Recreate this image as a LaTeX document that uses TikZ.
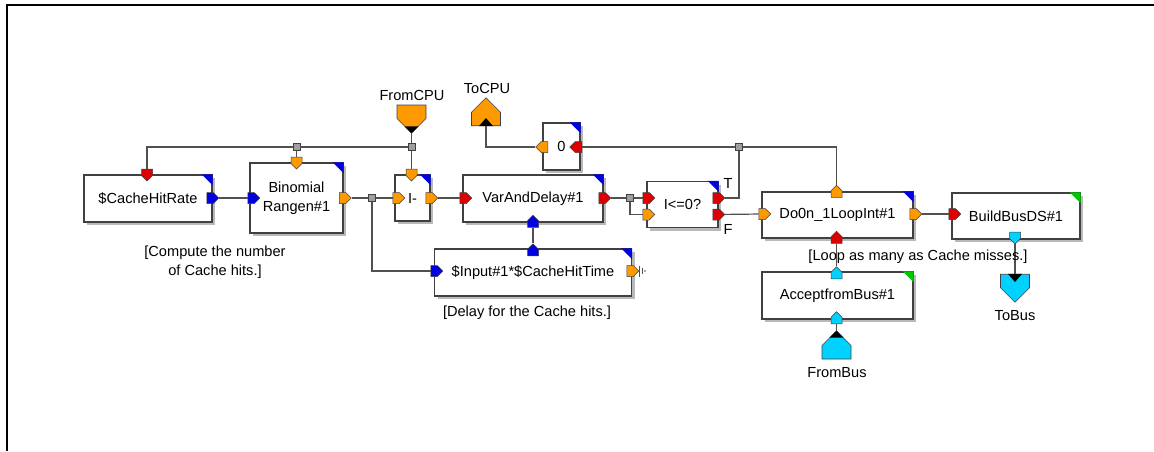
\documentclass[tikz,border=0pt]{standalone}
\usepackage{fontspec}
\setmainfont{Liberation Sans}
\usetikzlibrary{shapes.symbols,shadows,calc}
\definecolor{pred}{RGB}{222,0,0}
\definecolor{pblue}{RGB}{0,0,225}
\definecolor{porange}{RGB}{255,153,0}
\definecolor{pcyan}{RGB}{0,210,255}
\definecolor{pgreen}{RGB}{0,200,0}
\definecolor{boxc}{RGB}{64,64,64}
\definecolor{linec}{RGB}{80,80,80}
\definecolor{shadc}{RGB}{185,185,185}
\newcommand{\cornertri}[2]{\fill[#2] ($(#1.north east)+(-11,0)$) -- (#1.north east) -- ($(#1.north east)+(0,11)$) -- cycle;}
\begin{document}
\begin{tikzpicture}[x=1pt,y=-1pt,
  font=\fontsize{14.6}{17.5}\selectfont,
  blk/.style={draw=boxc, line width=1.3pt, fill=white, inner sep=0pt,
    drop shadow={shadow xshift=3pt, shadow yshift=-3pt, fill=shadc, opacity=1}},
  pth/.style={shape=signal, signal pointer angle=90, draw=boxc, line width=0.5pt,
    inner sep=0pt, minimum width=12pt, minimum height=11pt},
  ptv/.style={shape=signal, signal pointer angle=90, draw=boxc, line width=0.5pt,
    inner sep=0pt, minimum width=11pt, minimum height=6.5pt},
  term/.style={shape=signal, signal pointer angle=90, draw=boxc, line width=0.6pt,
    inner sep=0pt, minimum width=29pt, minimum height=13.5pt},
  jn/.style={draw=boxc, fill=gray!75, line width=0.6pt, inner sep=0pt, minimum size=7pt},
  wire/.style={draw=linec, line width=1.2pt},
  txt/.style={inner sep=0pt}]
\useasboundingbox (0,0) rectangle (1154,451);
\draw[line width=2pt] (1154,4.5) -- (7,4.5) -- (7,451);

% boxes
\node[blk, minimum width=128pt, minimum height=47pt] (chr) at (148,198.5) {\$CacheHitRate};
\node[blk, minimum width=93pt, minimum height=70pt, align=center] (bin) at (296.5,198) {Binomial\\[1pt]Rangen\#1};
\node[blk, minimum width=35pt, minimum height=46pt] (imin) at (412.5,198) {I-};
\node[blk, minimum width=37pt, minimum height=47pt] (zero) at (561.5,146.5) {0};
\node[blk, minimum width=140pt, minimum height=47pt] (vad) at (533,198.5) {VarAndDelay\#1};
\node[blk, minimum width=71pt, minimum height=46pt] (cond) at (682.5,204.5) {I<=0?};
\node[blk, minimum width=151pt, minimum height=46pt] (loop) at (837.5,215) {Do0n\_1LoopInt\#1};
\node[blk, minimum width=128pt, minimum height=46pt] (bbd) at (1016,216) {BuildBusDS\#1};
\node[blk, minimum width=151pt, minimum height=47pt] (afb) at (837.5,295.5) {AcceptfromBus\#1};
\node[blk, minimum width=197pt, minimum height=47pt] (inp) at (533,272.5) {\$Input\#1*\$CacheHitTime};

\cornertri{chr}{pblue}
\cornertri{bin}{pblue}
\cornertri{imin}{pblue}
\cornertri{zero}{pblue}
\cornertri{vad}{pblue}
\cornertri{cond}{pblue}
\cornertri{loop}{pblue}
\cornertri{bbd}{pgreen}
\cornertri{afb}{pgreen}
\cornertri{inp}{pblue}

% ports
\node[ptv, signal to=south, fill=pred] (chr-t) at (147,172.25) {};
\node[pth, signal to=east, fill=pblue] (chr-o) at (210,198) {};
\node[pth, signal to=east, fill=pblue] (bin-i) at (251,198) {};
\node[ptv, signal to=south, fill=porange] (bin-t) at (296.5,160.25) {};
\node[pth, signal to=east, fill=porange] (bin-o) at (342.5,198) {};
\node[ptv, signal to=south, fill=porange] (imin-t) at (411.5,172.25) {};
\node[pth, signal to=east, fill=porange] (imin-i) at (396,198) {};
\node[pth, signal to=east, fill=porange] (imin-o) at (429,198) {};
\node[pth, signal to=west, fill=porange] (zero-o) at (544.5,147) {};
\node[pth, signal to=west, fill=pred] (zero-i) at (578.5,147) {};
\node[pth, signal to=east, fill=pred] (vad-i) at (463,198) {};
\node[pth, signal to=east, fill=pred] (vad-o) at (602,198) {};
\node[ptv, signal to=north, fill=pblue] (vad-b) at (533,224) {};
\node[pth, signal to=east, fill=pred] (cond-i1) at (646,198) {};
\node[pth, signal to=east, fill=porange] (cond-i2) at (646,214.5) {};
\node[pth, signal to=east, fill=pred] (cond-t) at (716,198) {};
\node[pth, signal to=east, fill=pred] (cond-f) at (716,214.5) {};
\node[ptv, signal to=north, fill=porange] (loop-t) at (836.5,194) {};
\node[pth, signal to=east, fill=porange] (loop-i) at (762,214) {};
\node[pth, signal to=east, fill=porange] (loop-o) at (913,214) {};
\node[ptv, signal to=north, fill=pred] (loop-b) at (836.5,240) {};
\node[pth, signal to=east, fill=pred] (bbd-i) at (952,214) {};
\node[ptv, signal to=south, fill=pcyan] (bbd-b) at (1015,235.25) {};
\node[ptv, signal to=north, fill=pcyan] (afb-t) at (836.5,275.5) {};
\node[ptv, signal to=north, fill=pcyan] (afb-b) at (836.5,320.5) {};
\node[ptv, signal to=north, fill=pblue] (inp-t) at (533,252.5) {};
\node[pth, signal to=east, fill=pblue] (inp-i) at (434,271) {};
\node[pth, signal to=east, fill=porange] (inp-o) at (630,271) {};

% terminals
\node[term, signal to=south, fill=porange] (fromcpu) at (411.5,111.75) {};
\node[term, signal to=north, fill=porange] (tocpu) at (486,119) {};
\node[term, signal to=north, fill=pcyan] (frombus) at (836.5,352.25) {};
\node[term, signal to=south, fill=pcyan] (tobus) at (1015,281) {};
\fill (fromcpu.south) -- ++(-7,-7) -- ++(14,0) -- cycle;
\fill ($(tocpu.south)+(-7,0)$) -- ($(tocpu.south)+(0,-8)$) -- ($(tocpu.south)+(7,0)$) -- cycle;
\fill (frombus.north) -- ++(-7,7) -- ++(14,0) -- cycle;
\fill ($(tobus.north)+(-7,0)$) -- ($(tobus.north)+(0,8)$) -- ($(tobus.north)+(7,0)$) -- cycle;
\node[txt] (fromcpu-l) at (412,95) {FromCPU};
\node[txt] (tocpu-l) at (487,88) {ToCPU};
\node[txt] (frombus-l) at (837,373) {FromBus};
\node[txt] (tobus-l) at (1015,316) {ToBus};

% junctions
\node[jn] (j1) at (296.5,147) {};
\node[jn] (j2) at (411.5,147) {};
\node[jn] (j3) at (372,198) {};
\node[jn] (j4) at (630,198) {};
\node[jn] (j5) at (739,147) {};
\coordinate (tm) at (639,271);

% wires
\draw[wire] (fromcpu) -- (j2);
\draw[wire] (j2) -- (imin-t);
\draw[wire] (j2) -- (j1);
\draw[wire] (j1) -- (bin-t);
\draw[wire] (j1) -| (chr-t);
\draw[wire] (chr-o) -- (bin-i);
\draw[wire] (bin-o) -- (j3);
\draw[wire] (j3) -- (imin-i);
\draw[wire] (j3) |- (inp-i);
\draw[wire] (imin-o) -- (vad-i);
\draw[wire] (vad-o) -- (j4);
\draw[wire] (j4) -- (cond-i1);
\draw[wire] (j4) |- (cond-i2);
\draw[wire] (cond-t) -| (j5);
\draw[wire] (j5) -- (zero-i);
\draw[wire] (j5) -| (loop-t);
\draw[wire] (zero-o) -| (tocpu);
\draw[wire] (cond-f) -- (loop-i);
\draw[wire] (loop-o) -- (bbd-i);
\draw[wire] (bbd-b) -- (tobus);
\draw[wire] (afb-t) -- (loop-b);
\draw[wire] (frombus) -- (afb-b);
\draw[wire] (vad-b) -- (inp-t);
\draw[wire] (inp-o) -- (tm);
\draw[linec, line width=1pt] (639,265.5) -- (639,276.5) (642,268) -- (642,274);
\fill[linec] (645,271) circle (0.8);

% labels
\node[txt] (tl) at (728,183) {T};
\node[txt] (fl) at (728,229) {F};
\node[txt] (n1) at (215,253) {[Compute the number};
\node[txt] (n2) at (215,272) {of Cache hits.]};
\node[txt] (n3) at (527,313) {[Delay for the Cache hits.]};
\node[txt] (n4) at (918,257) {[Loop as many as Cache misses.]};
\end{tikzpicture}
\end{document}
